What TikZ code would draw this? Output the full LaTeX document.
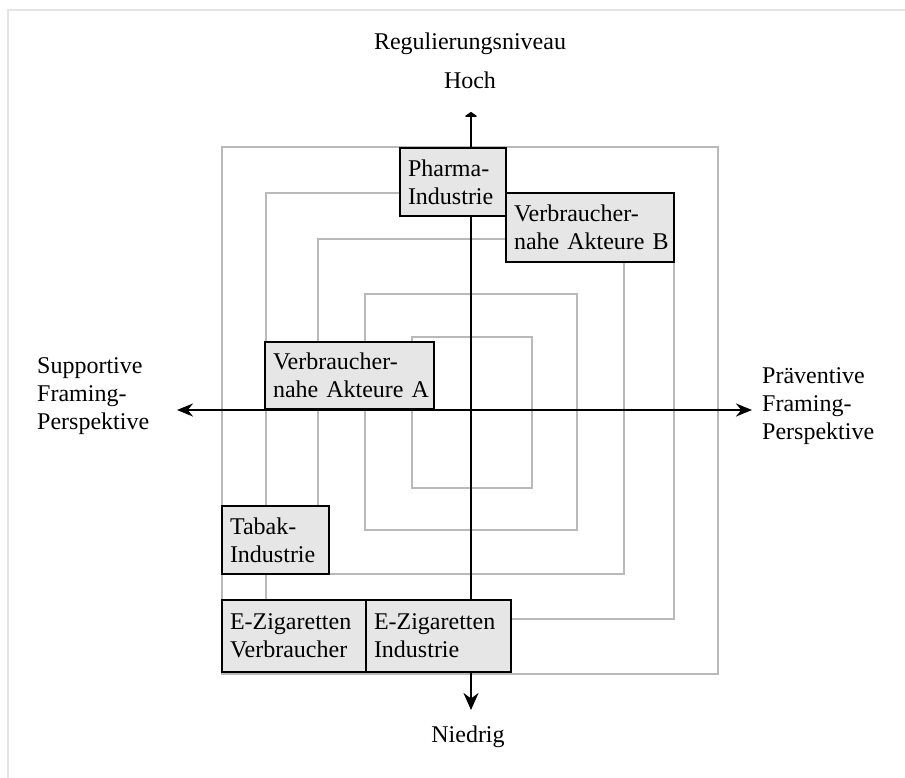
\documentclass[tikz,border=0pt]{standalone}
\usepackage{fontspec}
\setmainfont{Liberation Serif}
\usepackage{tikz}
\usetikzlibrary{arrows.meta}
\usepackage{xcolor}
\definecolor{boxgray}{RGB}{230,230,230}
\definecolor{ringgray}{RGB}{185,185,185}
\definecolor{edgegray}{RGB}{228,228,228}

\begin{document}
\begin{tikzpicture}[x=1pt,y=-1pt,>=Stealth,
  every node/.style={font=\fontsize{24}{28}\selectfont,inner sep=0pt},
  ring/.style={ringgray,line width=1.6pt},
  axis/.style={line width=2.4pt},
  actor/.style={draw,line width=2pt,fill=boxgray,align=left,inner xsep=8pt,inner ysep=0pt}]
  \useasboundingbox (0,0) rectangle (905,778);
  \draw[edgegray,line width=1.5pt] (905,10)--(8,10)--(8,778);
  % concentric rings
  \foreach \l/\t/\r/\b in {222/147/718/674,266/193/674/619,318/239/624/574,365/294/577/530,412/337/532/488}
    \draw[ring] (\l,\t) rectangle (\r,\b);
  % axes
  \coordinate (up) at (471,112);
  \coordinate (down) at (471,710);
  \coordinate (lft) at (177,410);
  \coordinate (rgt) at (752,410);
  \draw[axis,{Triangle[length=5pt,width=14pt,round]}-{Stealth[length=17pt,width=15pt]}](up)--(down);
  \draw[axis,{Stealth[length=16pt,width=13pt]}-{Stealth[length=16pt,width=13pt]}](lft)--(rgt);
  % actors
  \node[actor,text width=90pt,minimum height=68pt] (pharma) at (453,182){\mbox{Pharma-}\\\mbox{Industrie}};
  \node[actor,text width=152pt,minimum height=69pt] (vnakB) at (590,227.5){\mbox{Verbraucher-}\\\mbox{nahe Akteure B}};
  \node[actor,text width=153pt,minimum height=67pt] (vnakA) at (349.5,375.5){\mbox{Verbraucher-}\\\mbox{nahe Akteure A}};
  \node[actor,text width=91pt,minimum height=68pt] (tabak) at (275.5,540){\mbox{Tabak-}\\\mbox{Industrie}};
  \node[actor,text width=128pt,minimum height=72pt] (ezigV) at (294,636){\mbox{E-Zigaretten}\\\mbox{Verbraucher}};
  \node[actor,text width=129pt,minimum height=72pt] (ezigI) at (438.5,636){\mbox{E-Zigaretten}\\\mbox{Industrie}};
  % axis labels
  \node[anchor=base] (regniv) at (470,50){Regulierungsniveau};
  \node[anchor=base] (hoch) at (470,89){Hoch};
  \node[anchor=base] (niedrig) at (468,742){Niedrig};
  \node[anchor=west,align=left] (suppfr) at (37,396){Supportive\\Framing-\\Perspektive};
  \node[anchor=west,align=left] (praevfr) at (762,406){Präventive\\Framing-\\Perspektive};
\end{tikzpicture}
\end{document}
